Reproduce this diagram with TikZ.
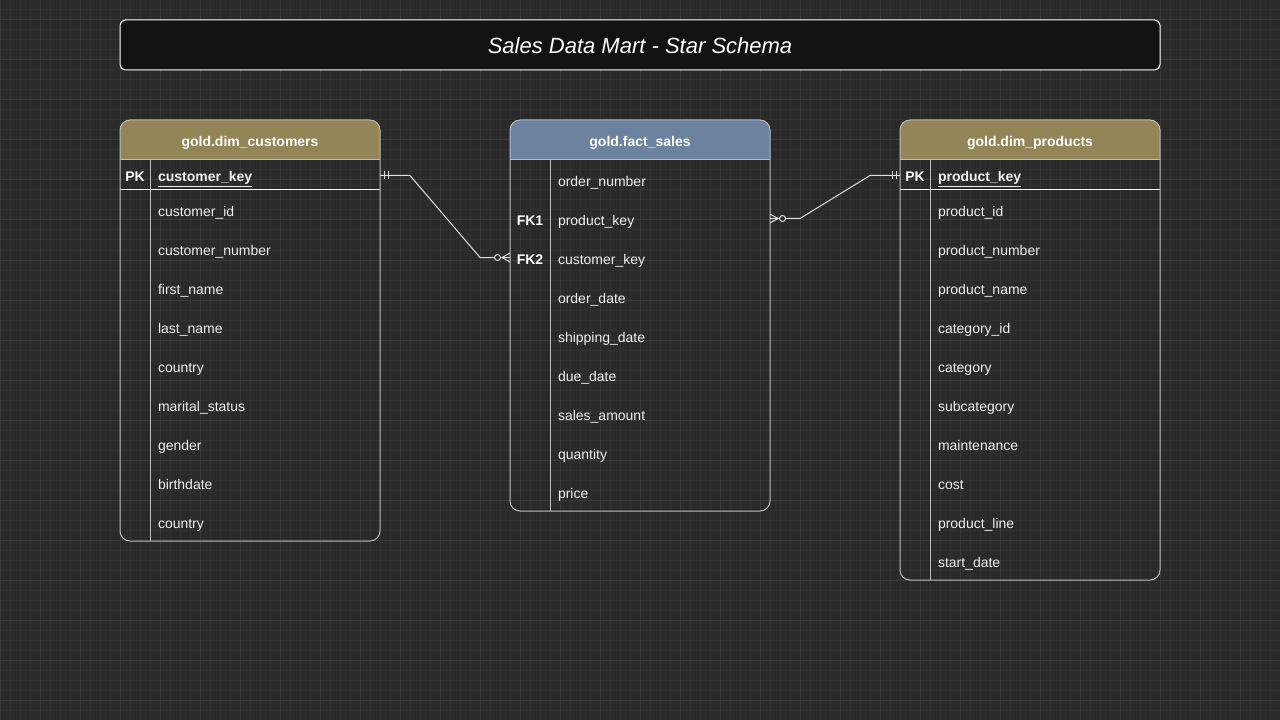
\documentclass[tikz,border=0pt]{standalone}
\usepackage{fontspec}
\setmainfont{Liberation Sans}
\usetikzlibrary{calc}
\definecolor{bgc}{HTML}{2A2A2A}
\definecolor{gridminor}{HTML}{303030}
\definecolor{gridmajor}{HTML}{393939}
\definecolor{titlefill}{HTML}{121212}
\definecolor{custhdr}{HTML}{948559}
\definecolor{facthdr}{HTML}{6C829E}
\definecolor{tblline}{HTML}{BDBDBD}
\definecolor{txt}{HTML}{F0F0F0}
\definecolor{connc}{HTML}{E0E0E0}
\tikzset{
  minorline/.style={draw=gridminor, line width=0.75pt},
  majorline/.style={draw=gridmajor, line width=0.75pt},
  tbl/.style={draw=tblline, line width=0.75pt, rounded corners=7.5pt, minimum width=195pt, anchor=north west, outer sep=0pt, inner sep=0pt},
  hdrtext/.style={text=white, font=\fontsize{10.5}{12}\selectfont\bfseries},
  keylbl/.style={text=white, font=\fontsize{10.5}{12}\selectfont\bfseries, text height=10.5pt, text depth=0.5pt},
  rowtext/.style={text=txt, font=\fontsize{10.5}{12}\selectfont, anchor=west, align=left, text width=160.5pt, inner xsep=6pt, inner ysep=0pt, minimum height=29.25pt, outer sep=0pt, text height=10.5pt, text depth=0.5pt},
  sepline/.style={draw=tblline, line width=0.75pt},
  pksep/.style={draw=white, line width=0.75pt},
  conn/.style={draw=connc, line width=0.75pt},
  ring/.style={draw=connc, fill=bgc, line width=0.75pt},
}
\begin{document}
\begin{tikzpicture}[x=0.75pt,y=-0.75pt]
\useasboundingbox (0,0) rectangle (1280,720);
\fill[bgc] (0,0) rectangle (1280,720);
\foreach \i in {0,10,...,1280} \draw[minorline] (\i,0) -- (\i,720);
\foreach \j in {0,10,...,720} \draw[minorline] (0,\j) -- (1280,\j);
\foreach \i in {0,40,...,1280} \draw[majorline] (\i,0) -- (\i,720);
\foreach \j in {20,60,...,700} \draw[majorline] (0,\j) -- (1280,\j);

% title
\draw[draw=white, fill=titlefill, line width=0.75pt, rounded corners=4pt] (120,20) rectangle (1160,70);
\node[text=white, font=\fontsize{16.5}{20}\selectfont\itshape] (title) at (640,46) {Sales Data Mart - Star Schema};

% ---------- gold.dim_customers ----------
\begin{scope}
\clip[rounded corners=7.5pt] (120,120) rectangle (380,541);
\fill[custhdr] (120,120) rectangle (380,160);
\end{scope}
\draw[sepline] (120,160) -- (380,160);
\draw[sepline] (150,160) -- (150,541);
\draw[pksep] (120,190) -- (380,190);
\node[tbl, minimum height=315.75pt] (cust) at (120,120) {};
\node[hdrtext] (cust-title) at (250,142.5) {gold.dim\_customers};
\node[keylbl] (c-pklbl) at (135,175) {PK};
\node[rowtext, font=\fontsize{10.5}{12}\selectfont\bfseries] (c-pk) at (150,175) {\underline{customer\_key}};
\foreach \f [count=\k from 0] in {customer\_id,customer\_number,first\_name,last\_name,country,marital\_status,gender,birthdate,country}
  \node[rowtext] (c-\k) at (150,{209.5+39*\k}) {\f};

% ---------- gold.fact_sales ----------
\begin{scope}
\clip[rounded corners=7.5pt] (510,120) rectangle (770,511);
\fill[facthdr] (510,120) rectangle (770,160);
\end{scope}
\draw[sepline] (510,160) -- (770,160);
\draw[sepline] (550,160) -- (550,511);
\node[tbl, minimum height=293.25pt] (fact) at (510,120) {};
\node[hdrtext] (fact-title) at (640,142.5) {gold.fact\_sales};
\foreach \f [count=\k from 0] in {order\_number,product\_key,customer\_key,order\_date,shipping\_date,due\_date,sales\_amount,quantity,price}
  \node[rowtext] (f-\k) at (550,{179.5+39*\k}) {\f};
\node[keylbl] (f-fk1) at (530,218.5) {FK1};
\node[keylbl] (f-fk2) at (530,257.5) {FK2};

% ---------- gold.dim_products ----------
\begin{scope}
\clip[rounded corners=7.5pt] (900,120) rectangle (1160,580);
\fill[custhdr] (900,120) rectangle (1160,160);
\end{scope}
\draw[sepline] (900,160) -- (1160,160);
\draw[sepline] (930,160) -- (930,580);
\draw[pksep] (900,190) -- (1160,190);
\node[tbl, minimum height=345pt] (prod) at (900,120) {};
\node[hdrtext] (prod-title) at (1030,142.5) {gold.dim\_products};
\node[keylbl] (p-pklbl) at (915,175) {PK};
\node[rowtext, font=\fontsize{10.5}{12}\selectfont\bfseries] (p-pk) at (930,175) {\underline{product\_key}};
\foreach \f [count=\k from 0] in {product\_id,product\_number,product\_name,category\_id,category,subcategory,maintenance,cost,product\_line,start\_date}
  \node[rowtext] (p-\k) at (930,{209.5+39*\k}) {\f};

% ---------- connectors ----------
% customers (one, mandatory) -> fact (many, optional)
\coordinate (cA) at ($(cust.east |- c-pk)+(0,0.5)$);
\coordinate (cB) at (fact.west |- f-2);
\draw[conn] (cA) -- ($(cA)+(30,0)$) -- ($(cB)+(-30,0)$) -- (cB);
\draw[conn] ($(cA)+(4,-4)$) -- ($(cA)+(4,4)$);
\draw[conn] ($(cA)+(8,-4)$) -- ($(cA)+(8,4)$);
\draw[conn] ($(cB)+(-8,0)$) -- ($(cB)+(0,-4.5)$);
\draw[conn] ($(cB)+(-8,0)$) -- ($(cB)+(0,4.5)$);
\draw[ring] ($(cB)+(-12.5,0)$) circle[radius=2.25pt];

% products (one, mandatory) -> fact (many, optional)
\coordinate (pA) at ($(prod.west |- p-pk)+(0,0.5)$);
\coordinate (pB) at (fact.east |- f-1);
\draw[conn] (pB) -- ($(pB)+(30,0)$) -- ($(pA)+(-30,0)$) -- (pA);
\draw[conn] ($(pA)+(-8,-4)$) -- ($(pA)+(-8,4)$);
\draw[conn] ($(pA)+(-4,-4)$) -- ($(pA)+(-4,4)$);
\draw[conn] ($(pB)+(8,0)$) -- ($(pB)+(0,-4.5)$);
\draw[conn] ($(pB)+(8,0)$) -- ($(pB)+(0,4.5)$);
\draw[ring] ($(pB)+(12.5,0)$) circle[radius=2.25pt];
\end{tikzpicture}
\end{document}
